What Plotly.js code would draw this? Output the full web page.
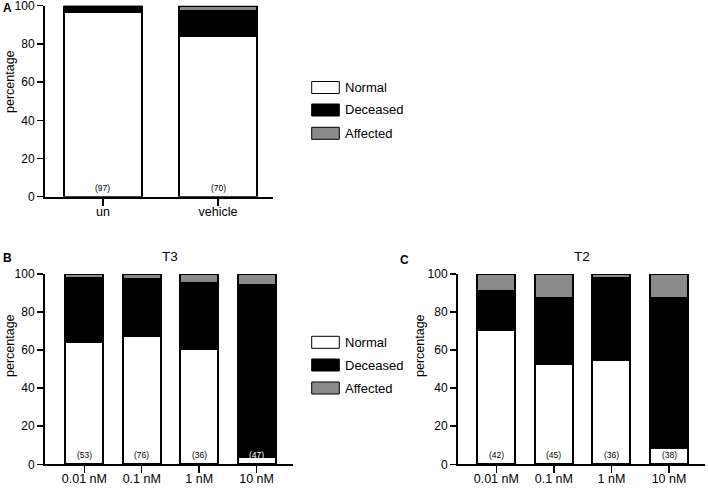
<!DOCTYPE html>
<html>
<head>
<meta charset="utf-8">
<script src="https://cdn.plot.ly/plotly-3.0.1.min.js"></script>
<style>html,body{margin:0;padding:0;background:#fff;}#chart{width:708px;height:489px;}</style>
</head>
<body>
<div id="chart"></div>
<script>
// ---- data ----
const seriesNames = ['Normal', 'Deceased', 'Affected'];
const catsA = ['un', 'vehicle'];
const normalA = [96.9, 84.4];
const deceasedA = [3.1, 12.7];
const affectedA = [0, 2.9];
const countsA = ['(97)', '(70)'];

const catsDose = ['0.01 nM', '0.1 nM', '1 nM', '10 nM'];
const normalT3 = [64.3, 67.3, 60.5, 4.0];
const deceasedT3 = [33.8, 30.2, 35.0, 90.0];
const affectedT3 = [1.9, 2.5, 4.5, 6.0];
const countsT3 = ['(53)', '(76)', '(36)', '(47)'];

const normalT2 = [70.8, 52.5, 54.8, 8.8];
const deceasedT2 = [20.5, 35.0, 43.0, 78.5];
const affectedT2 = [8.7, 12.5, 2.2, 12.7];
const countsT2 = ['(42)', '(45)', '(36)', '(38)'];

const yTicks = [0, 20, 40, 60, 80, 100];

// ---- styling ----
const W = 708, H = 489;
const FONT = 'Arial, "Liberation Sans", Helvetica, sans-serif';
const colors = ['#ffffff', '#000000', '#8a8a8a'];
const px = x => x / W;
const py = y => 1 - y / H;

function barTraces(cats, vals, xa, ya, width) {
  return vals.map((v, i) => ({
    type: 'bar', x: cats, y: v, name: seriesNames[i], xaxis: xa, yaxis: ya,
    width: width, cliponaxis: false, showlegend: false, hoverinfo: 'skip',
    marker: {color: colors[i], line: {color: '#000', width: 2}}
  }));
}

const data = [
  ...barTraces(catsA, [normalA, deceasedA, affectedA], 'x', 'y', 0.68),
  ...barTraces(catsDose, [normalT3, deceasedT3, affectedT3], 'x2', 'y2', 0.66),
  ...barTraces(catsDose, [normalT2, deceasedT2, affectedT2], 'x3', 'y3', 0.66)
];

function xAxis(domain, range, anchor) {
  return {
    domain: domain, range: range, anchor: anchor, type: 'category',
    showline: true, linewidth: 2, linecolor: '#000', showgrid: false, zeroline: false,
    ticks: 'outside', ticklen: 7, tickwidth: 1.5, tickcolor: '#000',
    ticklabelstandoff: -5, ticklabeloverflow: 'allow',
    tickfont: {family: FONT, size: 12.5, color: '#000'}, fixedrange: true
  };
}
function yAxis(domain, anchor) {
  return {
    domain: domain, range: [0, 100], anchor: anchor,
    showline: true, linewidth: 2, linecolor: '#000', showgrid: false, zeroline: false,
    ticks: 'outside', ticklen: 6, tickwidth: 1.5, tickcolor: '#000',
    tickvals: yTicks, ticktext: yTicks.map(String), ticklabeloverflow: 'allow',
    tickfont: {family: FONT, size: 12, color: '#000'}, fixedrange: true
  };
}

const annotations = [];
function countLabels(cats, counts, normals, xa, ya) {
  cats.forEach((c, i) => annotations.push({
    x: c, y: 0, xref: xa, yref: ya, text: counts[i], showarrow: false,
    yanchor: 'middle', yshift: 9,
    font: {family: FONT, size: 8.5, color: normals[i] < 6 ? '#fff' : '#000'}
  }));
}
countLabels(catsA, countsA, normalA, 'x', 'y');
countLabels(catsDose, countsT3, normalT3, 'x2', 'y2');
countLabels(catsDose, countsT2, normalT2, 'x3', 'y3');

function paperText(x, y, text, opts) {
  annotations.push(Object.assign({
    x: px(x), y: py(y), xref: 'paper', yref: 'paper', text: text, showarrow: false,
    xanchor: 'center', yanchor: 'middle', font: {family: FONT, size: 12.5, color: '#000'}
  }, opts || {}));
}
// panel letters
paperText(7.5, 8.5, '<b>A</b>', {font: {family: FONT, size: 12, color: '#000'}});
paperText(7.5, 258, '<b>B</b>', {font: {family: FONT, size: 12, color: '#000'}});
paperText(404, 259.5, '<b>C</b>', {font: {family: FONT, size: 12, color: '#000'}});
// panel titles
paperText(170, 256, 'T3', {font: {family: FONT, size: 13.5, color: '#000'}});
paperText(581.5, 256, 'T2', {font: {family: FONT, size: 13.5, color: '#000'}});
// y-axis titles
paperText(10, 82, 'percentage', {textangle: -90});
paperText(10, 346, 'percentage', {textangle: -90});
paperText(420, 346, 'percentage', {textangle: -90});

// legends
const shapes = [];
function legend(rows) {
  rows.forEach((yc, i) => {
    shapes.push({type: 'rect', xref: 'paper', yref: 'paper',
      x0: px(311.7), x1: px(339.3), y0: py(yc - 6), y1: py(yc + 6),
      fillcolor: colors[i], line: {color: '#000', width: 1}});
    paperText(343, yc, seriesNames[i], {xanchor: 'left', font: {family: FONT, size: 13, color: '#000'}});
  });
}
legend([87.5, 110, 133.3]);
legend([342.3, 365, 388]);

const layout = {
  width: W, height: H, margin: {l: 0, r: 0, t: 0, b: 0},
  paper_bgcolor: '#fff', plot_bgcolor: 'rgba(0,0,0,0)',
  barmode: 'stack', bargap: 0.3, showlegend: false,
  font: {family: FONT, color: '#000'},
  xaxis: xAxis([px(45), px(273)], [-0.504, 1.478], 'y'),
  yaxis: yAxis([py(196.7), py(5.7)], 'x'),
  xaxis2: xAxis([px(45), px(293.3)], [-0.685, 3.64], 'y2'),
  yaxis2: yAxis([py(464.3), py(274)], 'x2'),
  xaxis3: xAxis([px(458), px(705)], [-0.665, 3.625], 'y3'),
  yaxis3: yAxis([py(464.3), py(274)], 'x3'),
  annotations: annotations, shapes: shapes
};

Plotly.newPlot('chart', data, layout, {staticPlot: true, displayModeBar: false});
</script>
</body>
</html>
